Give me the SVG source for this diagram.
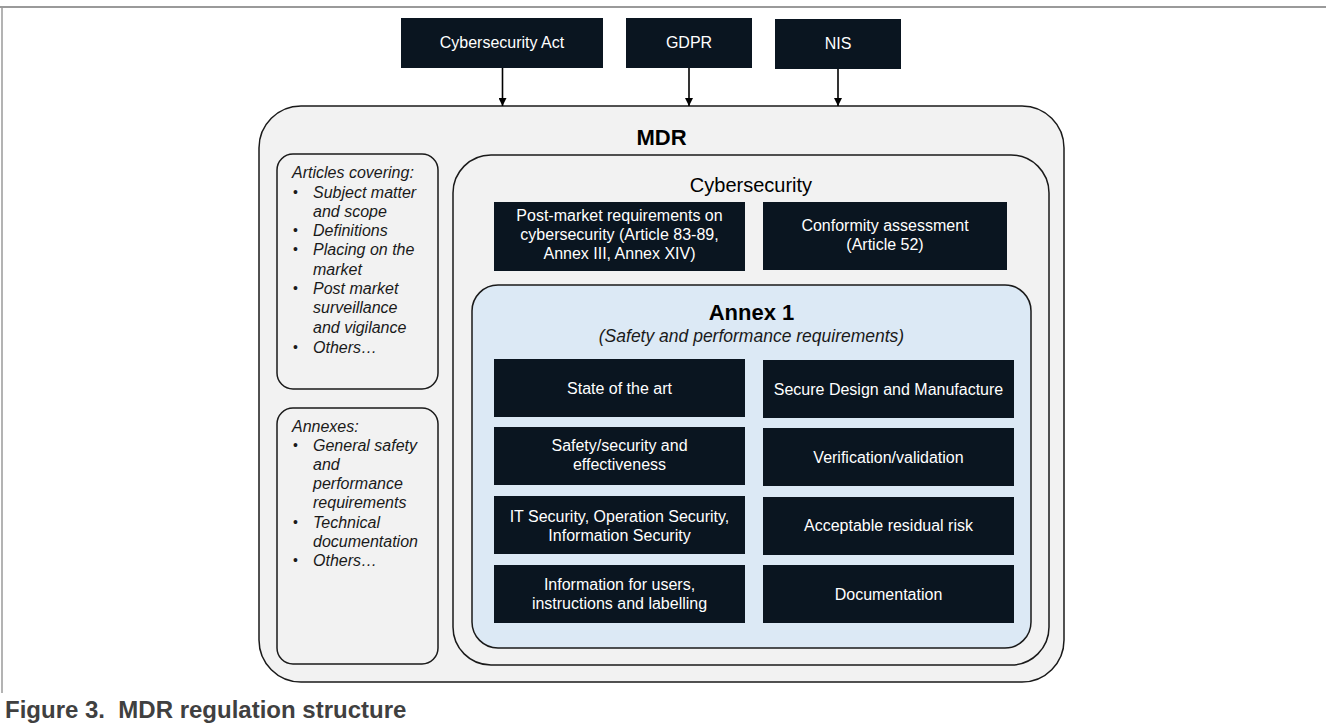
<svg xmlns="http://www.w3.org/2000/svg" width="1326" height="726" viewBox="0 0 1326 726">
<style>
text{font-family:"Liberation Sans",Arial,sans-serif;}
.dark{fill:#0a1520;}
.wt{fill:#ffffff;font-size:16px;text-anchor:middle;}
.cont{stroke:#1a1a1a;stroke-width:1.5;}
.side{font-size:16px;font-style:italic;fill:#1a1a1a;}
.bul{font-size:14px;fill:#1a1a1a;}
.conn{stroke:#000;stroke-width:1.6;fill:none;}
</style>
<defs>
<marker id="ah" viewBox="0 0 10 10" refX="10" refY="5" markerWidth="8" markerHeight="8" markerUnits="userSpaceOnUse" orient="auto">
<path d="M0,0 L10,5 L0,10 z" fill="#000"/>
</marker>
</defs>
<rect width="1326" height="726" fill="#ffffff"/>
<g id="frame">
<line x1="0" y1="7" x2="1326" y2="7" stroke="#9a9a9a" stroke-width="2"/>
<line x1="2" y1="7" x2="2" y2="693" stroke="#9a9a9a" stroke-width="1.5"/>
</g>
<g id="mdr">
<rect x="259" y="106" width="805" height="576" rx="42" ry="42" fill="#f2f2f2" class="cont"/>
<text x="661.5" y="145" font-size="22" font-weight="bold" text-anchor="middle" fill="#000">MDR</text>
</g>
<g id="articles">
<rect x="277" y="154" width="161" height="235" rx="16" ry="16" fill="#f2f2f2" class="cont"/>
<text class="side" x="292" y="178">Articles covering:</text>
<text class="bul" x="293" y="197">•</text><text class="side" x="313" y="198">Subject matter</text>
<text class="side" x="313" y="217">and scope</text>
<text class="bul" x="293" y="235">•</text><text class="side" x="313" y="236">Definitions</text>
<text class="bul" x="293" y="254">•</text><text class="side" x="313" y="255">Placing on the</text>
<text class="side" x="313" y="275">market</text>
<text class="bul" x="293" y="293">•</text><text class="side" x="313" y="294">Post market</text>
<text class="side" x="313" y="313">surveillance</text>
<text class="side" x="313" y="333">and vigilance</text>
<text class="bul" x="293" y="352">•</text><text class="side" x="313" y="353">Others…</text>
</g>
<g id="annexes">
<rect x="277" y="408" width="161" height="256" rx="16" ry="16" fill="#f2f2f2" class="cont"/>
<text class="side" x="292" y="432">Annexes:</text>
<text class="bul" x="293" y="450">•</text><text class="side" x="313" y="451">General safety</text>
<text class="side" x="313" y="470">and</text>
<text class="side" x="313" y="489">performance</text>
<text class="side" x="313" y="508">requirements</text>
<text class="bul" x="293" y="527">•</text><text class="side" x="313" y="528">Technical</text>
<text class="side" x="313" y="547">documentation</text>
<text class="bul" x="293" y="565">•</text><text class="side" x="313" y="566">Others…</text>
</g>
<g id="cybersecurity">
<rect x="453" y="155" width="596" height="510" rx="38" ry="38" fill="#f2f2f2" class="cont"/>
<text x="751" y="192" font-size="20" text-anchor="middle" fill="#000">Cybersecurity</text>
</g>
<g id="postmarket">
<rect class="dark" x="494" y="202" width="251" height="69"/>
<text class="wt" x="619.5" y="221">Post-market requirements on</text>
<text class="wt" x="619.5" y="240">cybersecurity (Article 83-89,</text>
<text class="wt" x="619.5" y="259">Annex III, Annex XIV)</text>
</g>
<g id="conformity">
<rect class="dark" x="763" y="202" width="244" height="68"/>
<text class="wt" x="885" y="231">Conformity assessment</text>
<text class="wt" x="885" y="250">(Article 52)</text>
</g>
<g id="annex1">
<rect x="472" y="285" width="559" height="363" rx="26" ry="26" fill="#dce9f5" class="cont"/>
<text x="751.5" y="320" font-size="22" font-weight="bold" text-anchor="middle" fill="#000">Annex 1</text>
<text x="751.5" y="342" font-size="17.5" font-style="italic" text-anchor="middle" fill="#1a1a1a">(Safety and performance requirements)</text>
</g>
<g id="state-of-art">
<rect class="dark" x="494" y="359" width="251" height="58"/>
<text class="wt" x="619.5" y="393.5">State of the art</text>
</g>
<g id="secure-design">
<rect class="dark" x="763" y="360" width="251" height="58"/>
<text class="wt" x="888.5" y="394.5">Secure Design and Manufacture</text>
</g>
<g id="safety-security">
<rect class="dark" x="494" y="427" width="251" height="58"/>
<text class="wt" x="619.5" y="450.5">Safety/security and</text>
<text class="wt" x="619.5" y="469.5">effectiveness</text>
</g>
<g id="verification">
<rect class="dark" x="763" y="428" width="251" height="58"/>
<text class="wt" x="888.5" y="462.5">Verification/validation</text>
</g>
<g id="it-security">
<rect class="dark" x="494" y="496" width="251" height="58"/>
<text class="wt" x="619.5" y="521.5">IT Security, Operation Security,</text>
<text class="wt" x="619.5" y="540.5">Information Security</text>
</g>
<g id="residual-risk">
<rect class="dark" x="763" y="497" width="251" height="58"/>
<text class="wt" x="888.5" y="531">Acceptable residual risk</text>
</g>
<g id="information-users">
<rect class="dark" x="494" y="565" width="251" height="58"/>
<text class="wt" x="619.5" y="590">Information for users,</text>
<text class="wt" x="619.5" y="609">instructions and labelling</text>
</g>
<g id="documentation">
<rect class="dark" x="763" y="565" width="251" height="58"/>
<text class="wt" x="888.5" y="599.5">Documentation</text>
</g>
<g id="cybersecurity-act">
<rect class="dark" x="401" y="18" width="202" height="50"/>
<text class="wt" x="502" y="48">Cybersecurity Act</text>
</g>
<g id="gdpr">
<rect class="dark" x="626" y="18" width="126" height="50"/>
<text class="wt" x="689" y="48">GDPR</text>
</g>
<g id="nis">
<rect class="dark" x="775" y="19" width="126" height="50"/>
<text class="wt" x="838" y="49">NIS</text>
</g>
<g id="connectors">
<line class="conn" x1="502.5" y1="68" x2="502.5" y2="106" marker-end="url(#ah)"/>
<line class="conn" x1="689" y1="68" x2="689" y2="106" marker-end="url(#ah)"/>
<line class="conn" x1="838" y1="69" x2="838" y2="106" marker-end="url(#ah)"/>
</g>
<g id="caption">
<text x="5" y="718" font-size="24" font-weight="bold" fill="#404040" xml:space="preserve">Figure 3.  MDR regulation structure</text>
</g>
</svg>
